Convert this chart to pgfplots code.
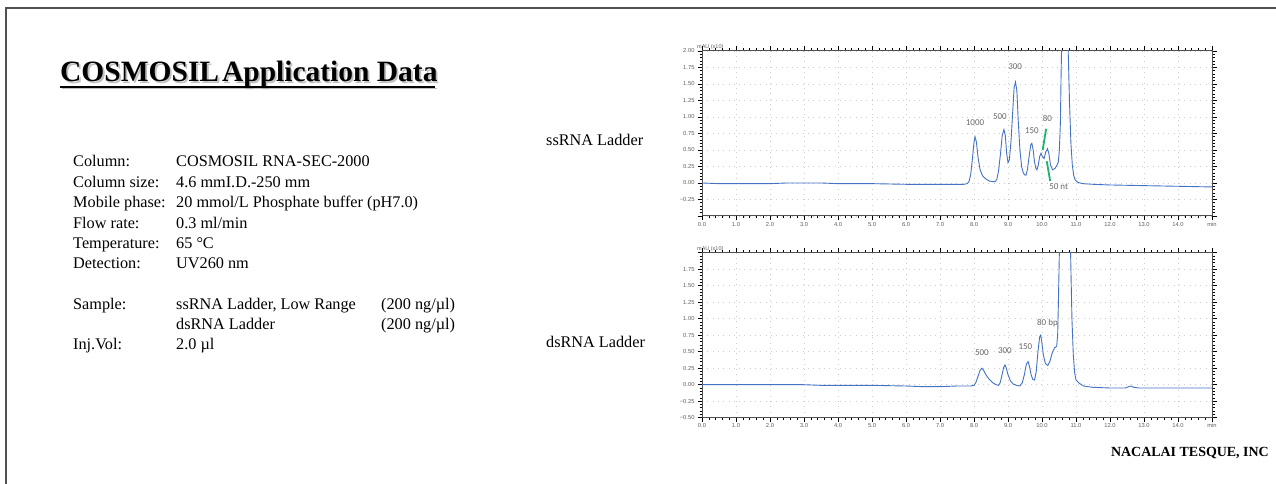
\documentclass[border=0pt]{standalone}
\usepackage{fontspec}
\setmainfont{Liberation Serif}
\newfontfamily\sansf{Liberation Sans}
\newfontfamily\calib{Carlito}
\usepackage{pgfplots}
\pgfplotsset{compat=1.18}
\definecolor{trace}{RGB}{68,114,196}
\definecolor{lbl}{RGB}{105,105,105}
\definecolor{grn}{RGB}{30,180,110}
\definecolor{tickc}{RGB}{95,95,95}
\definecolor{frame}{RGB}{80,80,80}

\newcommand{\body}{\fontsize{16.3}{19}\selectfont}
\newcommand{\lrow}[3]{%
  \node[anchor=base west,font=\body,inner sep=0pt] at (73bp,#1bp) {#2};
  \node[anchor=base west,font=\body,inner sep=0pt] at (176bp,#1bp) {#3};}

\pgfplotsset{chrom/.style={
  scale only axis, width=510bp, height=165bp,
  anchor=south west,
  xmin=0, xmax=15, ymin=-0.5, ymax=2.0,
  xtick={0,1,...,15},
  xticklabels={0.0,1.0,2.0,3.0,4.0,5.0,6.0,7.0,8.0,9.0,10.0,11.0,12.0,13.0,14.0,min},
  ytick={-0.5,-0.25,0,0.25,0.5,0.75,1.0,1.25,1.5,1.75,2.0},
  minor x tick num=4, minor y tick num=4,
  tick align=outside,
  major tick length=4.5bp, minor tick length=2.5bp,
  tick style={black, line width=0.6bp},
  axis line style={draw=frame, line width=1bp},
  grid=major,
  major grid style={draw=gray!40, line width=0.6bp, dash pattern=on 0.8bp off 4.5bp},
  every tick label/.append style={font=\sansf\fontsize{5.8}{6}\selectfont, text=tickc},
  xticklabel style={yshift=2bp},
  yticklabel style={xshift=0.5bp},
  clip=true,
  trace/.style={draw=trace, line width=0.9bp},
}}

\begin{document}
\begin{tikzpicture}[x=1bp,y=1bp]
\path[use as bounding box, fill=white] (0,0) rectangle (1276,484);
\draw[frame, line width=1.4bp] (6,0) -- (6,476) -- (1276,476);

% Title with shadow and underline
\node[anchor=base west, inner sep=0pt, font=\bfseries\fontsize{29.6}{32}\selectfont, text=black!35, opacity=0.7] at (61.8,400.2) {COSMOSIL\kern0.1em Application Data};
\fill[black!35, opacity=0.7] (61.8,394.6) rectangle (436.8,396.4);
\node[anchor=base west, inner sep=0pt, font=\bfseries\fontsize{29.6}{32}\selectfont] at (60,402) {COSMOSIL\kern0.1em Application Data};
\fill[black] (60,396.4) rectangle (435,398.2);

% Conditions
\lrow{317}{Column:}{COSMOSIL RNA-SEC-2000}
\lrow{296.6}{Column size:}{4.6 mmI.D.-250 mm}
\lrow{276.2}{Mobile phase:}{20 mmol/L Phosphate buffer (pH7.0)}
\lrow{255.8}{Flow rate:}{0.3 ml/min}
\lrow{235.4}{Temperature:}{65 °C}
\lrow{215}{Detection:}{UV260 nm}
\node[anchor=base west,font=\body,inner sep=0pt] at (73,174) {Sample:};
\node[anchor=base west,font=\body,inner sep=0pt] at (176,174) {ssRNA Ladder, Low Range};
\node[anchor=base west,font=\body,inner sep=0pt] at (381,174) {(200 ng/µl)};
\node[anchor=base west,font=\body,inner sep=0pt] at (176,154) {dsRNA Ladder};
\node[anchor=base west,font=\body,inner sep=0pt] at (381,154) {(200 ng/µl)};
\node[anchor=base west,font=\body,inner sep=0pt] at (73,134) {Inj.Vol:};
\node[anchor=base west,font=\body,inner sep=0pt] at (176,134) {2.0 µl};

\node[anchor=base west,font=\body,inner sep=0pt] at (546,338) {ssRNA Ladder};
\node[anchor=base west,font=\body,inner sep=0pt] at (546,136) {dsRNA Ladder};

\node[anchor=base east,font=\bfseries\fontsize{14}{16}\selectfont,inner sep=0pt] at (1269,27.5) {NACALAI TESQUE, INC};

% mAU labels
\node[anchor=base west,inner sep=0pt,font=\sansf\fontsize{5.5}{6}\selectfont,text=tickc] at (697,435) {mAU (x10)};
\node[anchor=base west,inner sep=0pt,font=\sansf\fontsize{5.5}{6}\selectfont,text=tickc] at (697,233) {mAU (x10)};

% ---- ssRNA ladder ----
\begin{axis}[chrom, at={(702bp,268bp)},
  yticklabels={,−0.25,0.00,0.25,0.50,0.75,1.00,1.25,1.50,1.75,2.00}]
\addplot[trace] coordinates {
(0,0.00) (0.5,-0.01) (1,-0.01) (2,-0.01) (2.5,0.00) (3,0.00) (3.5,0.00) (4,-0.01) (5,-0.01) (6,-0.02) (7,-0.02) (7.7,-0.02)
(7.8,-0.01) (7.85,0.02) (7.9,0.12) (7.95,0.35) (8.0,0.62) (8.03,0.70) (8.07,0.62) (8.12,0.38) (8.18,0.20) (8.25,0.11)
(8.35,0.06) (8.45,0.03) (8.55,0.02) (8.62,0.02) (8.67,0.05) (8.72,0.18) (8.78,0.45) (8.83,0.72) (8.88,0.81) (8.92,0.72)
(8.96,0.45) (9.0,0.31) (9.04,0.35) (9.09,0.65) (9.14,1.10) (9.18,1.45) (9.22,1.53) (9.26,1.40) (9.30,0.95) (9.35,0.50)
(9.40,0.25) (9.45,0.15) (9.50,0.12) (9.53,0.12) (9.57,0.20) (9.62,0.40) (9.67,0.58) (9.70,0.60) (9.74,0.50) (9.78,0.32)
(9.82,0.22) (9.85,0.20) (9.89,0.27) (9.93,0.40) (9.97,0.45) (10.01,0.40) (10.06,0.37) (10.11,0.47) (10.16,0.52) (10.20,0.45)
(10.25,0.27) (10.31,0.20) (10.38,0.22) (10.44,0.27) (10.48,0.32) (10.51,0.50) (10.54,0.9) (10.56,1.6) (10.58,2.2)
(10.62,3.5) (10.67,4.0) (10.72,3.5) (10.77,2.0) (10.81,1.2) (10.85,0.6) (10.89,0.28) (10.93,0.12) (10.97,0.05)
(11.05,0.01) (11.2,-0.01) (11.5,-0.02) (12,-0.03) (13,-0.04) (14,-0.05) (15,-0.06)};
\addplot[grn, line width=1.8bp] coordinates {(10.12,0.82) (10.02,0.50)};
\addplot[grn, line width=1.8bp] coordinates {(10.14,0.33) (10.24,0.03)};
\begin{scope}[every node/.style={font=\calib\fontsize{9}{10}\selectfont, text=lbl, inner sep=0pt}]
\node at (axis cs:8.03,0.92) {1000};
\node at (axis cs:8.76,1.00) {500};
\node at (axis cs:9.21,1.77) {300};
\node at (axis cs:9.70,0.79) {150};
\node at (axis cs:10.16,0.97) {80};
\node at (axis cs:10.49,-0.06) {50 nt};
\end{scope}
\end{axis}

% ---- dsRNA ladder ----
\begin{axis}[chrom, at={(702bp,66.3bp)},
  yticklabels={−0.50,−0.25,0.00,0.25,0.50,0.75,1.00,1.25,1.50,1.75,}]
\addplot[trace] coordinates {
(0,0.00) (1,0.00) (2,0.00) (3,0.00) (3.5,-0.01) (4,-0.01) (5,-0.01) (6,-0.02) (6.5,-0.03) (7,-0.03) (7.5,-0.02) (7.9,-0.02)
(8.0,-0.01) (8.06,0.04) (8.12,0.13) (8.18,0.22) (8.23,0.25) (8.28,0.22) (8.35,0.15) (8.45,0.08) (8.55,0.03) (8.65,0.00)
(8.72,-0.01) (8.77,0.03) (8.82,0.14) (8.87,0.26) (8.91,0.30) (8.95,0.25) (9.0,0.15) (9.07,0.06) (9.15,0.01) (9.25,-0.01)
(9.35,-0.02) (9.42,0.03) (9.48,0.15) (9.54,0.31) (9.59,0.35) (9.63,0.28) (9.68,0.15) (9.73,0.08) (9.78,0.07) (9.83,0.20)
(9.88,0.50) (9.93,0.72) (9.96,0.75) (9.99,0.66) (10.04,0.45) (10.10,0.32) (10.17,0.29) (10.23,0.35) (10.30,0.48)
(10.37,0.56) (10.43,0.58) (10.46,0.75) (10.48,1.2) (10.51,2.0) (10.58,3.5) (10.67,4.0) (10.76,3.5) (10.84,2.0)
(10.88,1.0) (10.92,0.45) (10.96,0.18) (11.0,0.07) (11.1,0.02) (11.22,-0.02) (11.5,-0.04) (12.0,-0.05) (12.45,-0.05)
(12.55,-0.03) (12.61,-0.02) (12.7,-0.04) (12.85,-0.05) (13.5,-0.05) (15,-0.05)};
\begin{scope}[every node/.style={font=\calib\fontsize{9}{10}\selectfont, text=lbl, inner sep=0pt}]
\node at (axis cs:8.23,0.48) {500};
\node at (axis cs:8.91,0.52) {300};
\node at (axis cs:9.51,0.58) {150};
\node at (axis cs:10.16,0.93) {80 bp};
\end{scope}
\end{axis}
\end{tikzpicture}
\end{document}
